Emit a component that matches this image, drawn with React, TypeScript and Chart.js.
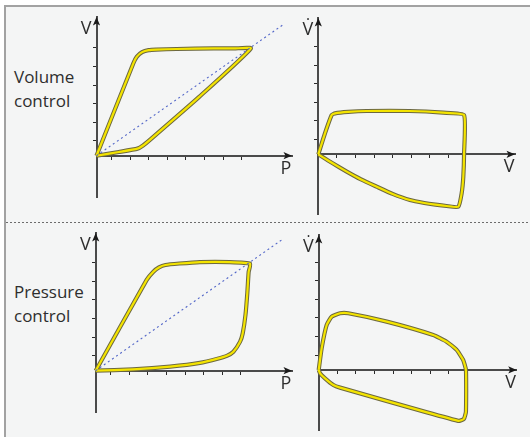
import React, { useEffect, useRef } from "react";
import { Chart, registerables } from "chart.js";

Chart.register(...registerables);

// Tick positions on each axis (one unit = one tick spacing)
const pvTicksX = [0.8, 1.8, 2.8, 3.8, 4.8, 5.8, 6.8, 7.8];
const pvTicksY = [0.8, 1.8, 2.8, 3.8, 4.8, 5.8];
const fvTicksX = [1, 2, 3, 4, 5, 6, 7];
const fvTicksY = [0.8, 1.8, 2.8, 3.8, 4.8, 5.8];

// Volume control: pressure–volume loop
const vcPvPressure = [0, 1.2, 2.2, 2.5, 2.9, 5.5, 8.29, 7.4, 6.3, 4.3, 3.2, 2.8, 2.45, 2.17, 1.98, 0];
const vcPvVolume = [0, 0.2, 0.38, 0.55, 0.88, 3.15, 5.77, 5.77, 5.77, 5.74, 5.71, 5.68, 5.57, 5.33, 4.97, 0];

// Volume control: flow–volume loop
const vcFvVolume = [0, 0.36, 0.72, 0.9, 1.6, 2.6, 4.9, 6.72, 7.84, 7.84, 7.8, 7.71, 7.53, 6.9, 6.3, 5.7, 4.93, 4.0, 3.14, 2.3, 1.53, 0.75, 0.3, 0];
const vcFvFlow = [0, 1.13, 2.11, 2.2, 2.28, 2.33, 2.33, 2.24, 2.11, 0, -1.2, -2.1, -2.82, -2.78, -2.71, -2.62, -2.46, -2.13, -1.74, -1.35, -0.93, -0.47, -0.19, 0];

// Pressure control: pressure–volume loop
const pcPvPressure = [0, 2.74, 3.1, 3.4, 3.75, 4.5, 5.6, 7.2, 8.3, 8.22, 8.15, 8.05, 7.9, 7.76, 7.4, 7.05, 6.6, 5.6, 4.0, 2.0, 0];
const pcPvVolume = [0, 4.88, 5.32, 5.55, 5.68, 5.76, 5.84, 5.84, 5.75, 5.3, 4.2, 3.0, 2.0, 1.56, 1.02, 0.8, 0.66, 0.42, 0.22, 0.07, 0];

// Pressure control: flow–volume loop
const pcFvVolume = [0, 0.16, 0.43, 0.7, 1.15, 1.59, 3.66, 6.16, 6.88, 7.42, 7.77, 7.92, 7.92, 7.81, 7.51, 1.15, 0.79, 0.34, 0.07, 0];
const pcFvFlow = [0, 1.17, 2.42, 2.87, 3.05, 3.05, 2.6, 1.88, 1.52, 1.08, 0.54, 0, -2.24, -2.63, -2.74, -0.95, -0.81, -0.45, -0.18, 0];

// Dotted compliance line on the pressure–volume plots
const compliancePressure = [0, 10.1];
const complianceVolume = [0, 7.1];

const zip = (xs: number[], ys: number[]) => xs.map((x, i) => ({ x, y: ys[i] }));

const LOOP_YELLOW = "#f4e400";
const LOOP_EDGE = "#6c6840";
const AXIS_COLOR = "#4a4a4a";
const TEXT_COLOR = "#2e2e2e";
const FONT_FAMILY = '"Open Sans", "Noto Sans", sans-serif';

// Draws arrowheads on the axis ends and the axis letters
const axisDecor = {
  id: "axisDecor",
  afterDraw(chart: any, _args: any, opts: any) {
    const { ctx, chartArea, scales } = chart;
    const x0 = scales.x.getPixelForValue(0);
    const y0 = scales.y.getPixelForValue(0);
    ctx.save();
    ctx.fillStyle = "#1a1a1a";
    // up arrow
    ctx.beginPath();
    ctx.moveTo(x0, chartArea.top);
    ctx.lineTo(x0 - 3.6, chartArea.top + 8.5);
    ctx.lineTo(x0, chartArea.top + 6.5);
    ctx.lineTo(x0 + 3.6, chartArea.top + 8.5);
    ctx.closePath();
    ctx.fill();
    // right arrow
    ctx.beginPath();
    ctx.moveTo(chartArea.right, y0);
    ctx.lineTo(chartArea.right - 8.5, y0 - 3.6);
    ctx.lineTo(chartArea.right - 6.5, y0);
    ctx.lineTo(chartArea.right - 8.5, y0 + 3.6);
    ctx.closePath();
    ctx.fill();

    ctx.fillStyle = TEXT_COLOR;
    ctx.font = `18px ${FONT_FAMILY}`;
    ctx.textBaseline = "alphabetic";
    ctx.textAlign = "right";
    ctx.fillText(opts.yLabel, x0 - 5, chartArea.top + 17);
    ctx.textAlign = "center";
    ctx.fillText(opts.xLabel, chartArea.right - 6, y0 + 18);
    ctx.restore();
  },
};

type Pad = { left: number; top: number; right: number; bottom: number };

type LoopProps = {
  left: number;
  top: number;
  width: number;
  height: number;
  pad: Pad;
  xMax: number;
  yMin: number;
  yMax: number;
  xTicks: number[];
  yTicks: number[];
  loopX: number[];
  loopY: number[];
  refX?: number[];
  refY?: number[];
  xLabel: string;
  yLabel: string;
};

function LoopChart(props: LoopProps) {
  const ref = useRef<HTMLCanvasElement | null>(null);

  useEffect(() => {
    if (!ref.current) return;
    const loop = zip(props.loopX, props.loopY);
    const datasets: any[] = [
      {
        data: loop,
        showLine: true,
        borderColor: LOOP_YELLOW,
        borderWidth: 2.2,
        pointRadius: 0,
        tension: 0.15,
        borderJoinStyle: "round",
        clip: false,
        order: 1,
      },
      {
        data: loop,
        showLine: true,
        borderColor: LOOP_EDGE,
        borderWidth: 4.2,
        pointRadius: 0,
        tension: 0.15,
        borderJoinStyle: "round",
        clip: false,
        order: 2,
      },
    ];
    if (props.refX && props.refY) {
      datasets.push({
        data: zip(props.refX, props.refY),
        showLine: true,
        borderColor: "#5266c8",
        borderWidth: 1.1,
        borderDash: [2, 3],
        pointRadius: 0,
        clip: false,
        order: 0,
      });
    }

    const tickGrid = {
      display: true,
      drawOnChartArea: false,
      drawTicks: true,
      tickLength: 3,
      color: "#2a2a2a",
      lineWidth: 1,
    };

    const chart = new Chart(ref.current, {
      type: "scatter",
      data: { datasets },
      options: {
        animation: false,
        responsive: false,
        events: [],
        layout: { padding: props.pad },
        plugins: {
          legend: { display: false },
          tooltip: { enabled: false },
          axisDecor: { xLabel: props.xLabel, yLabel: props.yLabel },
        } as any,
        scales: {
          x: {
            type: "linear",
            min: 0,
            max: props.xMax,
            position: { y: 0 } as any,
            border: { display: true, color: AXIS_COLOR, width: 2 },
            grid: tickGrid,
            ticks: { display: false },
            afterBuildTicks: (s: any) => {
              s.ticks = props.xTicks.map((v) => ({ value: v }));
            },
          },
          y: {
            type: "linear",
            min: props.yMin,
            max: props.yMax,
            position: { x: 0 } as any,
            border: { display: true, color: AXIS_COLOR, width: 2 },
            grid: tickGrid,
            ticks: { display: false },
            afterBuildTicks: (s: any) => {
              s.ticks = props.yTicks.map((v) => ({ value: v }));
            },
          },
        },
      },
      plugins: [axisDecor],
    });
    return () => chart.destroy();
  }, []);

  return (
    <canvas
      ref={ref}
      width={props.width}
      height={props.height}
      style={{
        position: "absolute",
        left: props.left,
        top: props.top,
        width: props.width,
        height: props.height,
      }}
    />
  );
}

const sideText: React.CSSProperties = {
  position: "absolute",
  left: 14,
  fontFamily: FONT_FAMILY,
  fontSize: 17,
  lineHeight: "24px",
  color: TEXT_COLOR,
};

export default function App() {
  return (
    <div
      style={{
        position: "absolute",
        left: 0,
        top: 0,
        width: 530,
        height: 437,
        overflow: "hidden",
        background: "#ffffff",
      }}
    >
      <div
        style={{
          position: "absolute",
          left: 4,
          top: 5,
          width: 620,
          height: 520,
          borderLeft: "2px solid #a2a2a2",
          borderTop: "2px solid #a2a2a2",
          background: "#f4f5f5",
        }}
      />
      <div
        style={{
          position: "absolute",
          left: 6,
          top: 222,
          width: 524,
          height: 1,
          backgroundImage:
            "repeating-linear-gradient(90deg, #6c6c6c 0px, #6c6c6c 2px, transparent 2px, transparent 4px)",
        }}
      />
      <div style={{ ...sideText, top: 65 }}>
        Volume
        <br />
        control
      </div>
      <div style={{ ...sideText, top: 280 }}>
        Pressure
        <br />
        control
      </div>

      <LoopChart
        left={60}
        top={8}
        width={240}
        height={200}
        pad={{ left: 36.5, top: 9, right: 8, bottom: 11 }}
        xMax={10.5}
        yMin={-2.22}
        yMax={7.46}
        xTicks={pvTicksX}
        yTicks={pvTicksY}
        loopX={vcPvPressure}
        loopY={vcPvVolume}
        refX={compliancePressure}
        refY={complianceVolume}
        xLabel="P"
        yLabel="V"
      />
      <LoopChart
        left={295}
        top={8}
        width={235}
        height={212}
        pad={{ left: 23.3, top: 10, right: 15, bottom: 6 }}
        xMax={10.58}
        yMin={-3.21}
        yMax={7.33}
        xTicks={fvTicksX}
        yTicks={fvTicksY}
        loopX={vcFvVolume}
        loopY={vcFvFlow}
        xLabel="V"
        yLabel={"V\u0307"}
      />
      <LoopChart
        left={60}
        top={225}
        width={240}
        height={200}
        pad={{ left: 35.7, top: 8, right: 8, bottom: 13 }}
        xMax={10.55}
        yMin={-2.22}
        yMax={7.4}
        xTicks={pvTicksX}
        yTicks={pvTicksY}
        loopX={pcPvPressure}
        loopY={pcPvVolume}
        refX={compliancePressure}
        refY={complianceVolume}
        xLabel="P"
        yLabel="V"
      />
      <LoopChart
        left={295}
        top={225}
        width={235}
        height={210}
        pad={{ left: 23.7, top: 10, right: 13.3, bottom: 5 }}
        xMax={10.65}
        yMin={-3.23}
        yMax={7.26}
        xTicks={fvTicksX}
        yTicks={fvTicksY}
        loopX={pcFvVolume}
        loopY={pcFvFlow}
        xLabel="V"
        yLabel={"V\u0307"}
      />
    </div>
  );
}
